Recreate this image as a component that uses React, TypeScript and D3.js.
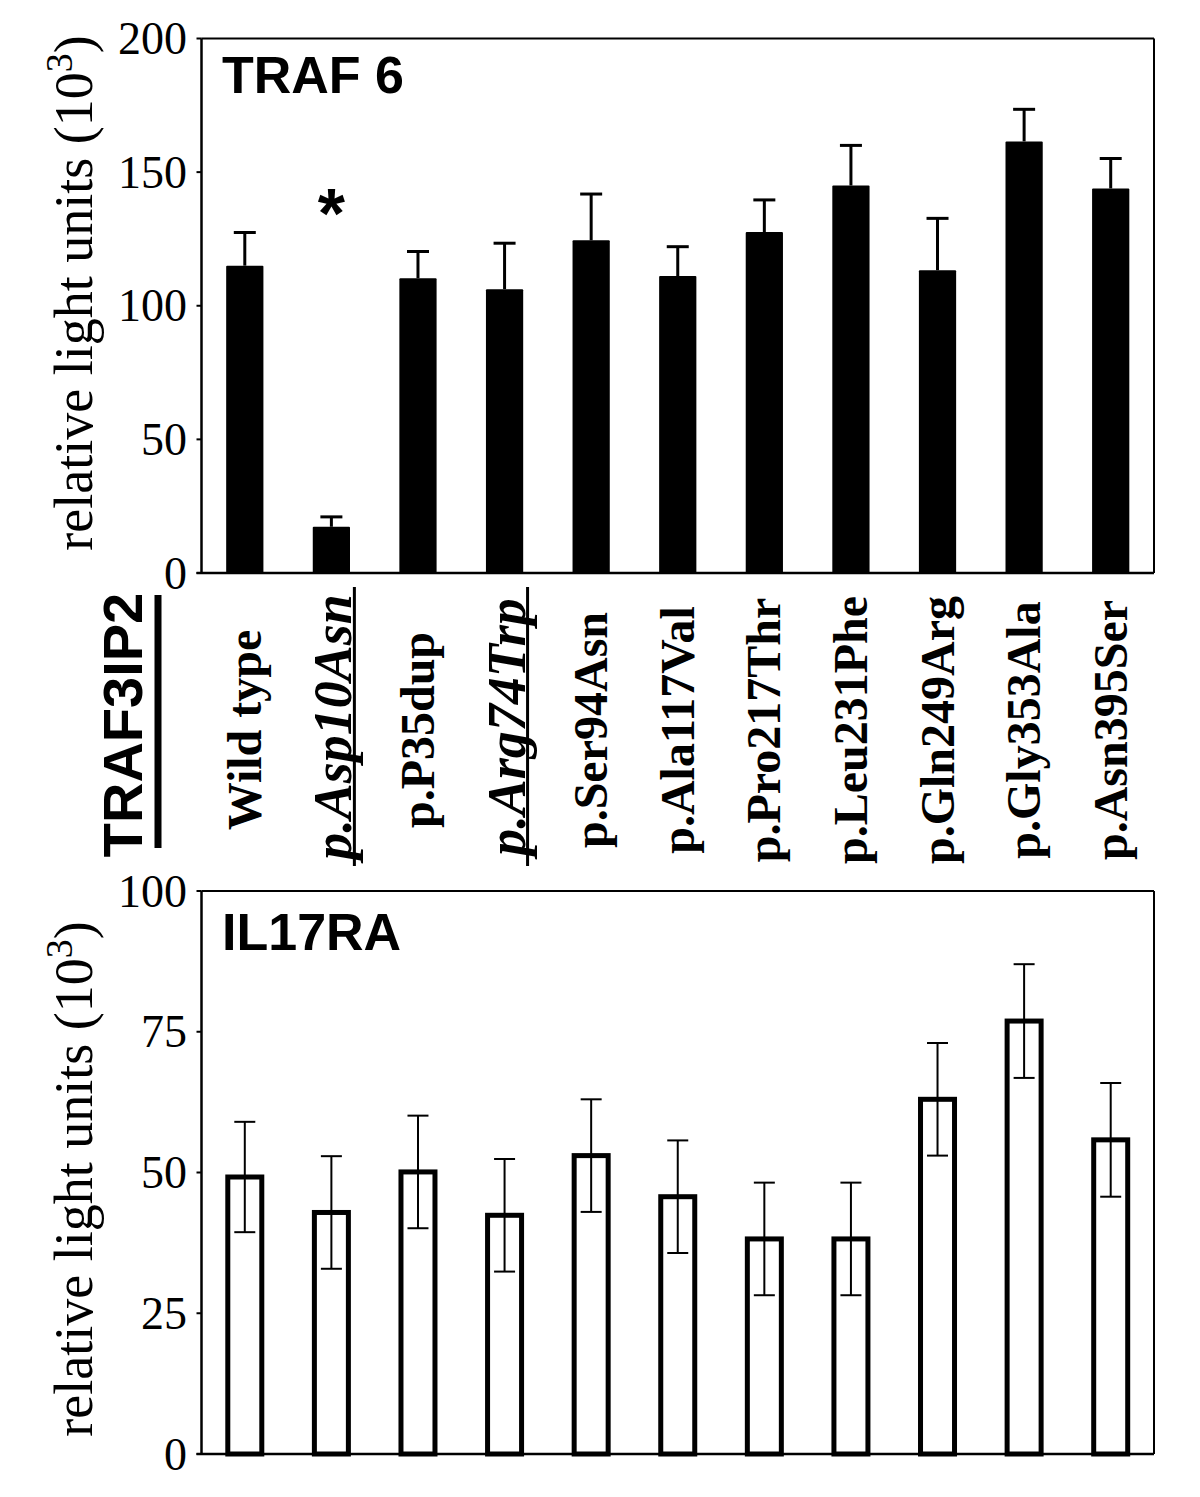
import * as React from 'react'
import * as d3 from 'd3'

// TRAF3IP2 variants, shared by both panels
const categories = ['Wild type', 'p.Asp10Asn', 'p.P35dup', 'p.Arg74Trp', 'p.Ser94Asn', 'p.Ala117Val',
	'p.Pro217Thr', 'p.Leu231Phe', 'p.Gln249Arg', 'p.Gly353Ala', 'p.Asn395Ser']
const italicCats = ['p.Asp10Asn', 'p.Arg74Trp']

// TRAF 6 (filled bars, upper error only)
const traf6 = [115, 17.3, 110.3, 106.2, 124.5, 111.1, 127.6, 145, 113.3, 161.5, 143.9]
const traf6Err = [12.4, 3.7, 10, 17.2, 17.3, 11, 12, 15, 19.4, 12, 11.2]
const traf6Ticks = [0, 50, 100, 150, 200]

// IL17RA (open bars, +/- error)
const il17ra = [49.2, 42.9, 50.1, 42.4, 53, 45.7, 38.2, 38.2, 63, 76.9, 55.8]
const il17raErr = [9.8, 10, 10, 10, 10, 10, 10, 10, 10, 10.1, 10.1]
const il17raTicks = [0, 25, 50, 75, 100]

const serif = '"Liberation Serif", "Times New Roman", serif'
const sans = '"Liberation Sans", Arial, sans-serif'

const left = 201.5
const right = 1154

const x = d3.scaleBand<string>()
	.domain(categories)
	.range([left, right])
	.paddingInner(0.57)
	.paddingOuter(0.285)

const yTop = d3.scaleLinear().domain([0, 200]).range([573, 38.5])
const yBot = d3.scaleLinear().domain([0, 100]).range([1454, 891])

function YAxis(props: { y: d3.ScaleLinear<number, number>, ticks: number[], labelY: number }) {
	const { y, ticks, labelY } = props
	const [y0, y1] = y.range()
	return (
		<g>
			{/* frame */}
			<line x1={left} x2={left} y1={y1} y2={y0} stroke="#000" strokeWidth={2.5} />
			<line x1={left - 5} x2={right} y1={y0} y2={y0} stroke="#000" strokeWidth={2.5} />
			<line x1={left} x2={right} y1={y1} y2={y1} stroke="#000" strokeWidth={2} />
			<line x1={right} x2={right} y1={y1} y2={y0} stroke="#000" strokeWidth={2} />
			{ticks.map(t => (
				<g key={t}>
					<line x1={left - 5} x2={left} y1={y(t)} y2={y(t)} stroke="#000" strokeWidth={2} />
					<text x={187} y={y(t) + 15.5} textAnchor="end" fontFamily={serif} fontSize={46}>{t}</text>
				</g>
			))}
			<text transform={`translate(92, ${labelY}) rotate(-90)`} textAnchor="middle"
				fontFamily={serif} fontSize={54}>
				relative light units (10<tspan fontSize={38} dy={-20}>3</tspan><tspan dy={20}>)</tspan>
			</text>
		</g>
	)
}

export default function App() {
	const bw = x.bandwidth()
	return (
		<svg width={1200} height={1497} style={{ position: 'absolute', left: 0, top: 0, background: '#fff' }}>
			<rect width={1200} height={1497} fill="#fff" />

			{/* ---- TRAF 6 panel ---- */}
			<YAxis y={yTop} ticks={traf6Ticks} labelY={293} />
			<text x={222} y={93} fontFamily={sans} fontWeight="bold" fontSize={52}>TRAF 6</text>
			{categories.map((c, i) => {
				const cx = x(c)! + bw / 2
				const top = yTop(traf6[i])
				const cap = yTop(traf6[i] + traf6Err[i])
				return (
					<g key={c}>
						<line x1={cx} x2={cx} y1={top} y2={cap} stroke="#000" strokeWidth={3} />
						<line x1={cx - 11} x2={cx + 11} y1={cap} y2={cap} stroke="#000" strokeWidth={3} />
						<rect x={x(c)} y={top} width={bw} height={yTop(0) - top} fill="#000" rx={1} />
					</g>
				)
			})}
			<text x={x('p.Asp10Asn')! + bw / 2} y={238} textAnchor="middle" fontFamily={sans}
				fontWeight="bold" fontSize={70}>*</text>

			{/* ---- category labels ---- */}
			<text transform="translate(142, 725) rotate(-90)" textAnchor="middle" fontFamily={sans}
				fontWeight="bold" fontSize={56}>TRAF3IP2</text>
			<line x1={158} x2={158} y1={595} y2={848} stroke="#000" strokeWidth={7} />
			{categories.map(c => {
				const cx = x(c)! + bw / 2
				const it = italicCats.includes(c)
				return (
					<g key={c}>
						<text transform={`translate(${cx + (it ? 20 : 16)}, ${it ? 727 : 730}) rotate(-90)`}
							textAnchor="middle" fontFamily={serif} fontWeight="bold"
							fontStyle={it ? 'italic' : 'normal'} fontSize={it ? 54 : 48}>{c}</text>
						{it && <line x1={cx + 23} x2={cx + 23} y1={587} y2={866} stroke="#000" strokeWidth={3} />}
					</g>
				)
			})}

			{/* ---- IL17RA panel ---- */}
			<YAxis y={yBot} ticks={il17raTicks} labelY={1179} />
			<text x={222} y={950} fontFamily={sans} fontWeight="bold" fontSize={52}>IL17RA</text>
			{categories.map((c, i) => {
				const cx = x(c)! + bw / 2
				const top = yBot(il17ra[i])
				const hi = yBot(il17ra[i] + il17raErr[i])
				const lo = yBot(il17ra[i] - il17raErr[i])
				return (
					<g key={c}>
						<rect x={cx - 17} y={top} width={34} height={yBot(0) - top} fill="none"
							stroke="#000" strokeWidth={5} />
						<line x1={cx} x2={cx} y1={hi} y2={lo} stroke="#000" strokeWidth={2} />
						<line x1={cx - 10.5} x2={cx + 10.5} y1={hi} y2={hi} stroke="#000" strokeWidth={2} />
						<line x1={cx - 10.5} x2={cx + 10.5} y1={lo} y2={lo} stroke="#000" strokeWidth={2} />
					</g>
				)
			})}
		</svg>
	)
}
